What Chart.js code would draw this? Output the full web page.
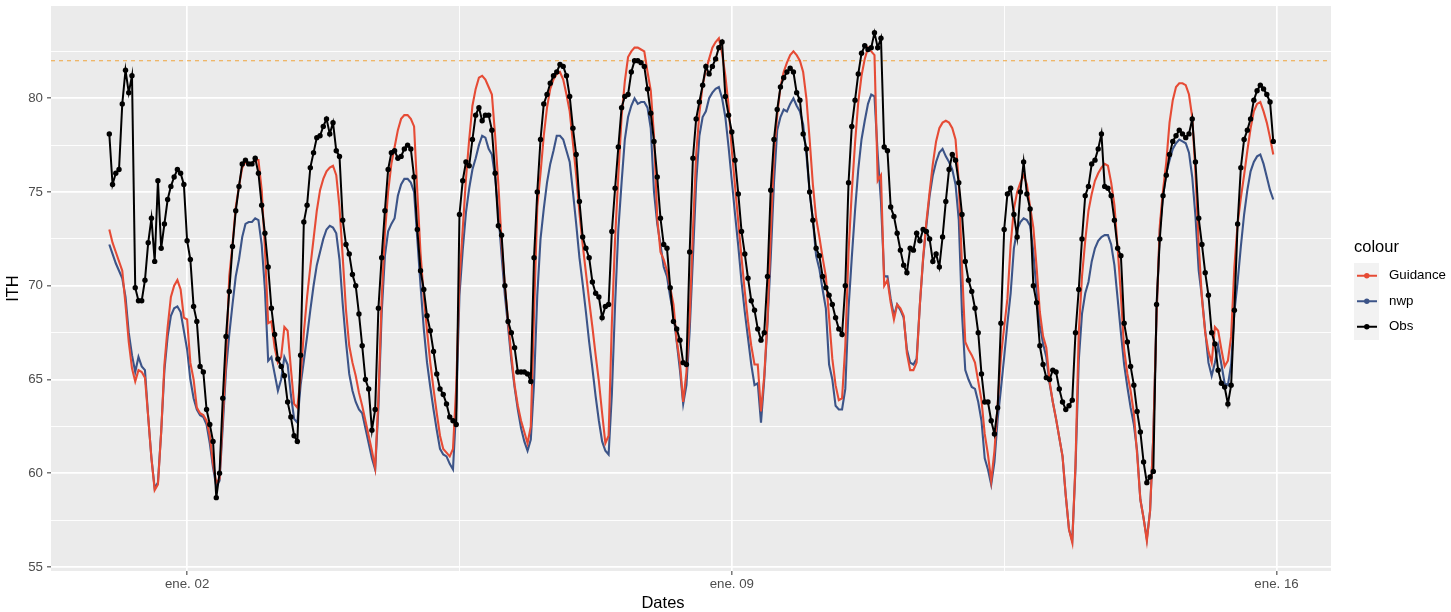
<!DOCTYPE html>
<html>
<head>
<meta charset="utf-8">
<script src="https://cdn.jsdelivr.net/npm/chart.js@4.4.1/dist/chart.umd.min.js"></script>
<style>
  html, body { margin: 0; padding: 0; background: #FFFFFF; }
  #c { display: block; }
</style>
</head>
<body>
<canvas id="c" width="1451" height="612" style="width:1451px;height:612px"></canvas>
<script>
// ---- Data: hourly values starting 1 Jan 00:00 (index = hours) ----
const OBS = [
  78.1, 75.4, 76.0, 76.2, 79.7, 81.5, 80.3, 81.2, 69.9, 69.2,
  69.2, 70.3, 72.3, 73.6, 71.3, 75.6, 72.0, 73.3, 74.6, 75.3,
  75.8, 76.2, 76.0, 75.4, 72.4, 71.4, 68.9, 68.1, 65.7, 65.4,
  63.4, 62.6, 61.7, 58.7, 60.0, 64.0, 67.3, 69.7, 72.1, 74.0,
  75.3, 76.5, 76.7, 76.5, 76.5, 76.8, 76.0, 74.3, 72.8, 71.0,
  68.8, 67.4, 66.1, 65.7, 65.2, 63.8, 63.0, 62.0, 61.7, 66.3,
  73.4, 74.3, 76.3, 77.1, 77.9, 78.0, 78.5, 78.9, 78.1, 78.7,
  77.2, 76.9, 73.5, 72.2, 71.7, 70.6, 70.0, 68.5, 66.8, 65.0,
  64.5, 62.3, 63.4, 68.8, 71.5, 74.0, 76.2, 77.1, 77.2, 76.8,
  76.9, 77.3, 77.5, 77.3, 75.8, 73.0, 70.8, 69.8, 68.4, 67.6,
  66.5, 65.3, 64.5, 64.2, 63.7, 63.0, 62.8, 62.6, 73.8, 75.6,
  76.6, 76.4, 77.8, 79.1, 79.5, 78.8, 79.1, 79.1, 78.3, 76.0,
  73.2, 72.7, 70.0, 68.1, 67.5, 66.7, 65.4, 65.4, 65.4, 65.3,
  64.9, 71.5, 75.0, 77.8, 79.7, 80.2, 80.8, 81.2, 81.4, 81.8,
  81.7, 81.2, 80.1, 78.4, 77.0, 74.5, 72.6, 72.0, 71.5, 70.2,
  69.6, 69.4, 68.3, 68.9, 69.0, 72.9, 75.2, 77.4, 79.5, 80.1,
  80.2, 81.4, 82.0, 82.0, 81.9, 81.7, 80.5, 79.2, 77.7, 75.8,
  73.6, 72.2, 72.0, 69.9, 68.1, 67.7, 67.1, 65.9, 65.8, 71.8,
  76.8, 78.9, 79.8, 80.7, 81.7, 81.3, 81.7, 82.1, 82.7, 83.0,
  80.1, 79.1, 78.2, 76.7, 74.9, 72.9, 71.7, 70.4, 69.2, 68.7,
  67.7, 67.1, 67.5, 70.5, 75.1, 77.8, 79.4, 80.6, 81.1, 81.4,
  81.6, 81.4, 80.3, 79.9, 78.1, 77.3, 75.0, 73.5, 72.0, 71.6,
  70.5, 69.9, 69.5, 69.0, 68.3, 67.7, 67.4, 70.0, 75.5, 78.5,
  79.9, 81.3, 82.4, 82.8, 82.6, 82.7, 83.5, 82.7, 83.2, 77.4,
  77.2, 74.2, 73.7, 72.8, 71.9, 71.1, 70.7, 72.0, 71.9, 72.8,
  72.4, 73.0, 72.9, 72.5, 71.3, 71.7, 71.0, 72.6, 74.5, 76.2,
  77.0, 76.7, 75.5, 73.8, 71.3, 70.3, 69.7, 68.8, 67.5, 65.3,
  63.8, 63.8, 62.8, 62.1, 63.5, 68.0, 73.0, 74.9, 75.2, 73.8,
  72.6, 75.0, 76.6, 74.9, 74.1, 70.0, 69.1, 66.8, 65.8, 65.1,
  65.0, 65.5, 65.4, 64.5, 63.8, 63.4, 63.6, 63.9, 67.5, 69.8,
  72.5, 74.8, 75.3, 76.5, 76.7, 77.3, 78.1, 75.3, 75.2, 74.8,
  73.5, 72.0, 71.6, 68.0, 67.0, 65.7, 64.7, 63.3, 62.2, 60.6,
  59.5, 59.8, 60.1, 69.0, 72.5, 74.8, 75.9, 77.0, 77.7, 78.0,
  78.3, 78.1, 77.9, 78.1, 78.9, 76.6, 73.6, 72.2, 70.7, 69.5,
  67.5, 66.9, 65.5, 64.8, 64.6, 63.7, 64.7, 68.7, 73.3, 76.3,
  77.8, 78.3, 78.9, 79.9, 80.4, 80.7, 80.5, 80.2, 79.8, 77.7
];

const GUIDANCE = [
  73.0, 72.3, 71.8, 71.3, 70.8, 69.0, 67.0, 65.6, 64.9, 65.5,
  65.4, 65.1, 63.0, 60.8, 59.1, 59.4, 62.2, 65.8, 67.8, 69.4,
  70.0, 70.3, 69.8, 68.3, 68.2, 65.9, 65.0, 63.5, 63.2, 63.1,
  62.8, 62.0, 60.5, 59.5, 59.7, 63.0, 66.0, 70.5, 72.2, 74.2,
  75.3, 76.3, 76.6, 76.5, 76.5, 76.7, 76.7, 75.1, 72.0, 68.0,
  68.1, 66.7, 65.9, 66.2, 67.8, 67.6, 65.6, 63.7, 63.5, 65.1,
  67.5, 69.4, 71.0, 72.5, 74.0, 75.1, 75.7, 76.1, 76.3, 76.4,
  75.9, 74.2, 71.5, 68.7, 66.8, 65.9, 65.2, 64.3, 63.6, 62.8,
  62.0, 61.2, 60.3, 64.0, 69.3, 72.8, 75.0, 76.5, 77.4, 78.3,
  78.9, 79.1, 79.1, 78.9, 78.5, 75.0, 71.7, 69.4, 67.6, 65.9,
  64.5, 63.2, 62.0, 61.3, 61.1, 60.9, 61.3, 64.6, 70.3, 73.0,
  75.7, 77.8, 79.6, 80.5, 81.1, 81.2, 81.0, 80.6, 80.2, 78.0,
  75.4, 72.3, 70.0, 68.1, 66.3, 64.7, 63.6, 62.8, 62.2, 61.6,
  62.5, 68.5, 74.2, 76.0, 78.0, 79.5, 80.5, 81.0, 81.3, 81.4,
  81.0, 80.2, 79.3, 77.6, 75.9, 73.9, 72.2, 70.7, 69.2, 67.8,
  66.3, 64.9, 63.2, 61.6, 62.0, 68.0, 72.5, 75.9, 79.0, 80.9,
  82.2, 82.5, 82.7, 82.7, 82.6, 82.5, 81.4, 80.4, 78.0, 73.6,
  71.8, 71.4, 70.8, 69.9, 69.0, 67.1, 65.9, 63.8, 65.4, 68.3,
  72.9, 77.0, 79.2, 80.7, 81.5, 82.1, 82.7, 83.0, 83.2, 82.4,
  81.2, 79.6, 77.2, 75.3, 73.4, 71.5, 69.7, 68.1, 66.8, 65.8,
  65.8, 63.3, 65.2, 68.2, 72.8, 77.0, 79.1, 80.6, 81.4, 81.9,
  82.3, 82.5, 82.3, 82.0, 81.4, 80.0, 77.8, 75.4, 73.6, 72.6,
  71.5, 70.5, 68.3, 66.1, 64.7, 63.9, 64.0, 66.8, 71.8, 75.0,
  77.6, 79.8, 81.2, 82.1, 82.7, 82.5, 82.3, 75.6, 75.9, 70.0,
  70.3, 69.1, 68.2, 69.0, 68.8, 68.4, 66.4, 65.5, 65.5, 65.9,
  69.0, 71.5, 73.4, 75.0, 76.5, 77.7, 78.4, 78.7, 78.8, 78.7,
  78.4, 77.8, 75.5, 71.0, 67.0, 66.6, 66.3, 65.9, 64.9, 63.9,
  62.1, 61.0, 59.6, 61.2, 63.7, 66.2, 67.8, 69.3, 72.2, 74.1,
  75.0, 75.5, 75.9, 75.4, 74.2, 73.1, 71.0, 68.6, 67.3, 66.7,
  64.9, 63.8, 62.9, 61.9, 60.9, 58.8, 57.0, 56.3, 60.5, 67.5,
  70.5, 72.4, 74.0, 74.9, 75.6, 76.0, 76.3, 76.5, 76.4, 75.5,
  74.3, 72.0, 69.5, 66.6, 65.3, 64.4, 63.2, 61.0, 58.6, 57.6,
  56.4, 58.0, 62.0, 68.5, 73.2, 75.1, 76.6, 78.7, 79.9, 80.6,
  80.8, 80.8, 80.7, 80.2, 79.0, 76.0, 72.2, 69.3, 67.5, 66.5,
  65.9, 67.8, 67.6, 66.6, 65.7, 66.0, 67.3, 71.0, 73.3, 74.7,
  75.9, 77.2, 78.4, 79.3, 79.7, 79.8, 79.3, 78.7, 77.9, 77.0
];

const NWP = [
  72.2, 71.7, 71.2, 70.8, 70.4, 69.4, 67.5, 66.3, 65.4, 66.2,
  65.7, 65.5, 63.0, 60.8, 59.2, 59.5, 62.2, 65.5, 67.3, 68.4,
  68.8, 68.9, 68.6, 67.6, 66.6, 65.0, 64.0, 63.4, 63.1, 63.0,
  62.6, 61.6, 60.3, 59.3, 59.6, 62.5, 65.5, 67.4, 69.0, 70.5,
  71.4, 72.6, 73.3, 73.4, 73.4, 73.6, 73.5, 72.2, 69.8, 66.0,
  66.2, 65.3, 64.4, 65.0, 66.2, 65.8, 64.2, 62.9, 62.7, 64.7,
  66.0, 67.3, 68.7, 70.0, 71.1, 71.8, 72.5, 73.0, 73.2, 73.1,
  72.8, 71.4, 69.0, 67.0, 65.3, 64.4, 63.8, 63.4, 63.2, 62.4,
  61.6, 60.8, 60.2, 63.5, 68.5, 71.6, 72.9, 73.3, 73.6, 74.8,
  75.4, 75.7, 75.7, 75.5, 75.0, 72.5, 70.0, 67.7, 65.9, 64.6,
  63.4, 62.3, 61.3, 61.0, 60.9, 60.5, 60.2, 63.5, 69.5, 71.9,
  73.9, 75.2, 76.2, 76.8, 77.5, 78.0, 77.9, 77.3, 77.0, 75.8,
  73.9, 71.6, 69.5, 67.8, 66.0, 64.6, 63.4, 62.4, 61.7, 61.2,
  61.8, 64.8, 69.5, 72.5, 74.1, 75.5, 76.5, 77.2, 78.0, 78.0,
  77.8, 77.2, 76.6, 75.0, 73.3, 71.5, 70.1, 68.6, 67.0, 65.6,
  64.1, 62.8, 61.7, 61.2, 61.0, 64.2, 69.0, 73.0, 75.5, 77.8,
  79.0, 79.6, 80.0, 79.7, 79.8, 79.8, 79.5, 78.4, 75.0, 73.3,
  72.2, 71.0, 70.5, 69.4, 68.5, 67.0, 65.5, 63.7, 64.7, 67.6,
  71.5, 75.5, 78.0, 79.0, 79.3, 80.0, 80.3, 80.5, 80.6, 80.0,
  79.0, 77.4, 75.6, 73.8, 72.1, 70.2, 68.6, 67.2, 65.8, 64.7,
  64.8, 62.7, 65.0, 68.0, 71.5, 75.5, 78.3, 79.0, 79.4, 79.3,
  79.7, 80.0, 79.6, 79.3, 78.6, 77.0, 75.0, 73.5, 71.6, 70.9,
  69.8, 68.8, 65.8, 65.0, 63.6, 63.4, 63.4, 64.5, 68.8, 71.5,
  74.0, 76.2, 77.8, 78.8, 79.7, 80.2, 80.1, 77.0, 74.5, 70.5,
  70.5, 69.3, 68.4, 69.0, 68.7, 68.3, 66.6, 65.9, 65.8, 66.1,
  69.0, 71.4, 73.2, 74.8, 75.9, 76.6, 77.1, 77.3, 76.9, 76.6,
  76.2, 75.4, 73.5, 68.5, 65.5, 65.0, 64.6, 64.5, 63.8, 62.8,
  60.8, 60.2, 59.4, 60.6, 62.9, 64.5, 66.2, 68.0, 69.6, 72.0,
  73.0, 73.4, 73.6, 73.5, 73.2, 71.8, 69.7, 67.9, 66.9, 66.2,
  64.8, 63.8, 62.9, 61.9, 60.9, 58.8, 57.0, 56.4, 60.3, 66.0,
  68.5, 69.6, 70.2, 71.3, 72.0, 72.4, 72.6, 72.7, 72.7, 72.2,
  71.1, 69.3, 67.5, 65.8, 64.6, 63.5, 62.6, 61.2, 58.6, 57.6,
  56.5, 58.0, 62.0, 68.5, 73.0, 74.8, 76.0, 76.7, 77.3, 77.6,
  77.8, 77.7, 77.6, 77.1, 75.8, 73.7, 70.8, 69.4, 67.6, 65.9,
  65.2, 65.9, 66.8, 65.8, 64.8, 64.7, 65.8, 68.6, 70.2, 72.1,
  73.8, 75.1, 76.1, 76.6, 76.9, 77.0, 76.5, 75.8, 75.1, 74.6
];

const THRESHOLD = 82;                       // dashed reference line
const X_TICK_HOURS = [24, 192, 360];        // midnight of 2, 9, 16 Jan
const X_TICK_TEXT = ['ene. 02', 'ene. 09', 'ene. 16'];
const X_MINOR_HOURS = [108, 276];
const Y_TICKS = [55, 60, 65, 70, 75, 80];
const Y_MINOR = [57.5, 62.5, 67.5, 72.5, 77.5, 82.5];
const SERIES_NAMES = ['Guidance', 'nwp', 'Obs'];
const SERIES_COLORS = ['#E64B35', '#3C5488', '#000000'];

// ---- build library tables ----
const HOURS = OBS.map((_, i) => i);
const toPts = arr => arr.map((v, i) => ({ x: HOURS[i], y: v }));
const X_MIN = -17.98, X_MAX = 376.8;
const Y_MIN = 54.787, Y_MAX = 84.92;

const FONT = "'Liberation Sans', Arial, sans-serif";
Chart.defaults.font.family = FONT;

const decor = {
  id: 'decor',
  beforeDraw(chart) {
    const { ctx, chartArea: a } = chart;
    ctx.save();
    ctx.fillStyle = '#FFFFFF';
    ctx.fillRect(0, 0, chart.width, chart.height);
    ctx.fillStyle = '#EBEBEB';
    ctx.fillRect(a.left, a.top, a.right - a.left, a.bottom - a.top);
    ctx.restore();
  },
  afterDraw(chart) {
    const { ctx, chartArea: a } = chart;
    ctx.save();
    // axis titles
    ctx.fillStyle = '#000000';
    ctx.font = '16.5px ' + FONT;
    ctx.textAlign = 'center';
    ctx.textBaseline = 'middle';
    ctx.fillText('Dates', 663, 603);
    ctx.save();
    ctx.translate(13, (a.top + a.bottom) / 2);
    ctx.rotate(-Math.PI / 2);
    ctx.fillText('ITH', 0, 0);
    ctx.restore();
    // legend
    ctx.textAlign = 'left';
    ctx.font = '16.5px ' + FONT;
    ctx.fillText('colour', 1354, 247);
    const keyX = 1354, keyW = 25, keyH = 25.5, keyTop = 263;
    ctx.font = '13.3px ' + FONT;
    SERIES_NAMES.forEach((name, i) => {
      const top = keyTop + i * keyH;
      const cy = top + keyH / 2;
      ctx.fillStyle = '#F2F2F2';
      ctx.fillRect(keyX, top, keyW, keyH + 0.5);
      ctx.strokeStyle = SERIES_COLORS[i];
      ctx.lineWidth = 2;
      ctx.beginPath();
      ctx.moveTo(keyX + 3, cy);
      ctx.lineTo(keyX + keyW - 2, cy);
      ctx.stroke();
      ctx.fillStyle = SERIES_COLORS[i];
      ctx.beginPath();
      ctx.arc(keyX + 12.8, cy, 2.7, 0, Math.PI * 2);
      ctx.fill();
      ctx.fillStyle = '#000000';
      ctx.fillText(name, 1389, cy);
    });
    ctx.restore();
  }
};

const isMajorX = v => X_TICK_HOURS.includes(v);
const isMajorY = v => Y_TICKS.includes(v);
const zeroPad = s => { s.paddingTop = 0; s.paddingBottom = 0; s.paddingLeft = 0; s.paddingRight = 0; };

new Chart(document.getElementById('c'), {
  type: 'line',
  data: {
    datasets: [
      { label: 'Obs', data: toPts(OBS), borderColor: SERIES_COLORS[2], backgroundColor: SERIES_COLORS[2],
        borderWidth: 2, pointRadius: 2.7, pointBorderWidth: 0, pointBackgroundColor: SERIES_COLORS[2],
        tension: 0, order: 0 },
      { label: 'Guidance', data: toPts(GUIDANCE), borderColor: SERIES_COLORS[0], borderWidth: 2.1,
        pointRadius: 0, tension: 0, order: 1 },
      { label: 'nwp', data: toPts(NWP), borderColor: SERIES_COLORS[1], borderWidth: 2.1,
        pointRadius: 0, tension: 0, order: 2 },
      { label: 'threshold', data: [{ x: X_MIN, y: THRESHOLD }, { x: X_MAX, y: THRESHOLD }],
        borderColor: '#EFA53F', borderWidth: 1, borderDash: [4, 4], pointRadius: 0, order: 3 }
    ]
  },
  options: {
    responsive: false,
    animation: false,
    devicePixelRatio: 1,
    events: [],
    layout: { padding: { top: 6, right: 120, left: 0, bottom: 0 } },
    plugins: { legend: { display: false }, tooltip: { enabled: false }, title: { display: false } },
    scales: {
      x: {
        type: 'linear', min: X_MIN, max: X_MAX,
        afterFit: s => { s.height = 41; zeroPad(s); },
        afterBuildTicks: s => {
          s.ticks = X_TICK_HOURS.concat(X_MINOR_HOURS).sort((p, q) => p - q).map(v => ({ value: v }));
        },
        ticks: {
          autoSkip: false, maxRotation: 0, minRotation: 0, padding: 1,
          color: '#4D4D4D', font: { size: 13.3, family: FONT },
          callback: v => { const k = X_TICK_HOURS.indexOf(v); return k >= 0 ? X_TICK_TEXT[k] : ''; }
        },
        grid: {
          color: '#FFFFFF',
          lineWidth: c => (c.tick && isMajorX(c.tick.value)) ? 1.7 : 0.9,
          drawTicks: true, tickLength: 4, tickWidth: 1,
          tickColor: c => (c.tick && isMajorX(c.tick.value)) ? '#333333' : 'rgba(0,0,0,0)'
        },
        border: { display: false }
      },
      y: {
        type: 'linear', min: Y_MIN, max: Y_MAX,
        afterFit: s => { s.width = 51; zeroPad(s); },
        afterBuildTicks: s => {
          s.ticks = Y_TICKS.concat(Y_MINOR).sort((p, q) => p - q).map(v => ({ value: v }));
        },
        ticks: {
          autoSkip: false, padding: 4,
          color: '#4D4D4D', font: { size: 13.3, family: FONT },
          callback: v => isMajorY(v) ? String(v) : ''
        },
        grid: {
          color: '#FFFFFF',
          lineWidth: c => (c.tick && isMajorY(c.tick.value)) ? 1.7 : 0.9,
          drawTicks: true, tickLength: 4, tickWidth: 1,
          tickColor: c => (c.tick && isMajorY(c.tick.value)) ? '#333333' : 'rgba(0,0,0,0)'
        },
        border: { display: false }
      }
    }
  },
  plugins: [decor]
});
</script>
</body>
</html>
